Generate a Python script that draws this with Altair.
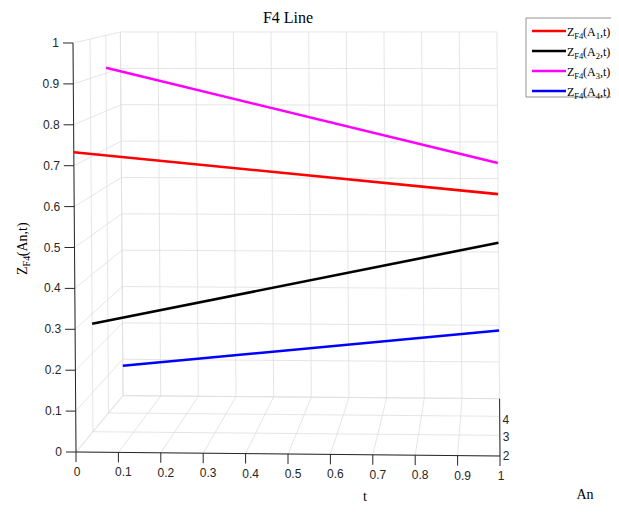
import altair as alt
import pandas as pd

# ---------------- data ----------------
TITLE = "F4 Line"
t_ticks = [0, 0.1, 0.2, 0.3, 0.4, 0.5, 0.6, 0.7, 0.8, 0.9, 1]
t_labels = ["0", "0.1", "0.2", "0.3", "0.4", "0.5", "0.6", "0.7", "0.8", "0.9", "1"]
z_ticks = [0, 0.1, 0.2, 0.3, 0.4, 0.5, 0.6, 0.7, 0.8, 0.9, 1]
z_labels = ["0", "0.1", "0.2", "0.3", "0.4", "0.5", "0.6", "0.7", "0.8", "0.9", "1"]
an_grid = [1, 2, 3, 4]
an_ticks = [2, 3, 4]
an_labels = ["2", "3", "4"]

series_names = ["A1", "A2", "A3", "A4"]
series_sub = ["1", "2", "3", "4"]
series_an = [1, 2, 3, 4]
series_colors = ["#ff0000", "#000000", "#ff00ff", "#0000ff"]
t_points = [0, 1]
z_A1 = [0.733, 0.634]
z_A2 = [0.275, 0.486]
z_A3 = [0.914, 0.665]
z_A4 = [0.082, 0.186]
z_series = [z_A1, z_A2, z_A3, z_A4]

# ---------------- perspective view settings ----------------
W, H = 424, 409          # front plane size in px
K, VY = 0.042, 1.24      # depth shrink per An unit, vanishing height
SKX, SKY = 3, 4          # slight camera skew (px)
AN0, ANMAX = 1, 4


def proj(t, an, z, ox, oy):
    s = f"(1/(1+{K}*(({an})-{AN0})))"
    X = f"(1+{s}*(({t})-1))"
    Y = f"({VY}+{s}*(({z})-{VY}))"
    return {ox: f"{X}-{SKX}*{Y}/{W}", oy: f"{Y}-{SKY}*{X}*(1-{Y})/{H}"}


xs = alt.Scale(domain=[0, 1], nice=False, zero=False)
ys = alt.Scale(domain=[0, 1], nice=False, zero=False)

# series table
rows = []
for name, an, zs in zip(series_names, series_an, z_series):
    for t, z in zip(t_points, zs):
        rows.append({"name": name, "t": t, "an": an, "z": z})
series_df = pd.DataFrame(rows)

# grid segments
seg = []
for t in t_ticks:
    seg.append((t, ANMAX, 0, t, ANMAX, 1))
    seg.append((t, AN0, 0, t, ANMAX, 0))
for z in z_ticks:
    seg.append((0, ANMAX, z, 1, ANMAX, z))
    seg.append((0, AN0, z, 0, ANMAX, z))
for an in an_grid:
    seg.append((0, an, 0, 0, an, 1))
    seg.append((0, an, 0, 1, an, 0))
grid_df = pd.DataFrame(seg, columns=["t1", "a1", "z1", "t2", "a2", "z2"])

axes_df = pd.DataFrame(
    [(0, AN0, 0, 0, AN0, 1), (0, AN0, 0, 1, AN0, 0), (1, AN0, 0, 1, ANMAX, 0)],
    columns=["t1", "a1", "z1", "t2", "a2", "z2"],
)


def seg_layer(df, color, width):
    calc = {}
    calc.update(proj("datum.t1", "datum.a1", "datum.z1", "px1", "py1"))
    calc.update(proj("datum.t2", "datum.a2", "datum.z2", "px2", "py2"))
    return alt.Chart(df).transform_calculate(**calc).mark_rule(
        color=color, strokeWidth=width
    ).encode(
        x=alt.X("px1:Q", scale=xs, axis=None),
        y=alt.Y("py1:Q", scale=ys, axis=None),
        x2="px2:Q",
        y2="py2:Q",
    )


grid = seg_layer(grid_df, "#dedede", 0.8)
axes = seg_layer(axes_df, "#262626", 1)

zdf = pd.DataFrame({"z": z_ticks, "lab": z_labels})
tdf = pd.DataFrame({"t": t_ticks, "lab": t_labels})
adf = pd.DataFrame({"an": an_ticks, "lab": an_labels})

z_tick = alt.Chart(zdf).transform_calculate(
    **proj("0", f"{AN0}", "datum.z", "px", "py")
).transform_calculate(px2=f"datum.px-10/{W}").mark_rule(
    color="#262626", strokeWidth=1
).encode(
    x=alt.X("px:Q", scale=xs, axis=None), x2="px2:Q",
    y=alt.Y("py:Q", scale=ys, axis=None),
)
z_lab = alt.Chart(zdf).transform_calculate(
    **proj("0", f"{AN0}", "datum.z", "px", "py")
).mark_text(
    align="right", baseline="middle", dx=-14, font="Liberation Sans",
    fontSize=12, color="#262626"
).encode(
    x=alt.X("px:Q", scale=xs, axis=None),
    y=alt.Y("py:Q", scale=ys, axis=None), text="lab:N",
)

t_tick = alt.Chart(tdf).transform_calculate(
    **proj("datum.t", f"{AN0}", "0", "px", "py")
).transform_calculate(py2=f"datum.py-10/{H}").mark_rule(
    color="#262626", strokeWidth=1
).encode(
    x=alt.X("px:Q", scale=xs, axis=None),
    y=alt.Y("py:Q", scale=ys, axis=None), y2="py2:Q",
)
t_lab = alt.Chart(tdf).transform_calculate(
    **proj("datum.t", f"{AN0}", "0", "px", "py")
).transform_calculate(
    px=f"datum.px+(datum.t>0&&datum.t<1?5:1)/{W}"
).mark_text(
    align="center", baseline="middle", dy=20, font="Liberation Sans",
    fontSize=12, color="#262626"
).encode(
    x=alt.X("px:Q", scale=xs, axis=None),
    y=alt.Y("py:Q", scale=ys, axis=None), text="lab:N",
)

a_lab = alt.Chart(adf).transform_calculate(
    **proj("1", "datum.an", "0", "px", "py")
).mark_text(
    align="left", baseline="middle", dx=3, dy=21, font="Liberation Sans",
    fontSize=12, color="#262626"
).encode(
    x=alt.X("px:Q", scale=xs, axis=None),
    y=alt.Y("py:Q", scale=ys, axis=None), text="lab:N",
)

lines = alt.Chart(series_df).transform_calculate(
    **proj("datum.t", "datum.an", "datum.z", "px", "py")
).mark_line(strokeWidth=2.6).encode(
    x=alt.X("px:Q", scale=xs, axis=None),
    y=alt.Y("py:Q", scale=ys, axis=None),
    color=alt.Color("name:N", scale=alt.Scale(domain=series_names, range=series_colors), legend=None),
    order="t:Q",
)

# ---------------- texts ----------------
one = pd.DataFrame({"a": [0]})
SERIF = "Liberation Serif"

title = alt.Chart(one).mark_text(
    text=TITLE, font=SERIF, fontSize=16, align="center", baseline="middle", color="#000"
).encode(x=alt.value(212), y=alt.value(-25))

t_title = alt.Chart(one).mark_text(
    text="t", font=SERIF, fontSize=14, align="center", baseline="middle", color="#000"
).encode(x=alt.value(289), y=alt.value(454))

an_title = alt.Chart(one).mark_text(
    text="An", font=SERIF, fontSize=14, align="center", baseline="middle", color="#000"
).encode(x=alt.value(509), y=alt.value(452))

# y title: Z_F4(An,t) rotated
YT_X, YT_Y = -49, 232
ytitle = []
for txt, dx, dy, fs in [("Z", 0, 0, 14), ("F4", 8.6, 3, 10), ("(An", 18.8, 0, 14), (",t)", 40.6, 0, 14)]:
    ytitle.append(alt.Chart(one).mark_text(
        text=txt, font=SERIF, fontSize=fs, angle=270, align="left",
        baseline="alphabetic", dx=dx, dy=dy, color="#000"
    ).encode(x=alt.value(YT_X), y=alt.value(YT_Y)))

# ---------------- legend ----------------
leg_df = pd.DataFrame({"name": series_names, "sub": series_sub, "i": [0, 1, 2, 3]})
LEG_Y0, LEG_DY = -12, 20

leg_box = alt.Chart(one).mark_rect(
    fill="white", stroke="#777777", strokeWidth=0.8
).encode(x=alt.value(450), x2=alt.value(560), y=alt.value(-25), y2=alt.value(54))

leg_base = alt.Chart(leg_df).transform_calculate(
    ly=f"{LEG_Y0}+{LEG_DY}*datum.i", lt=f"{LEG_Y0}+{LEG_DY}*datum.i+4.5"
)
leg_lines = leg_base.mark_rule(strokeWidth=2.6).encode(
    x=alt.value(456), x2=alt.value(490),
    y=alt.Y("ly:Q", scale=None),
    color=alt.Color("name:N", scale=alt.Scale(domain=series_names, range=series_colors), legend=None),
)
leg_text = []
for txt, xv, dy, fs in [("Z", 491, 0, 12), ("F4", 498.3, 3, 8.5), ("(A", 507, 0, 12), (None, 519.7, 3, 8.5), (",t)", 524, 0, 12)]:
    mk = dict(font=SERIF, fontSize=fs, align="left", baseline="alphabetic", dy=dy, color="#000")
    if txt is not None:
        mk["text"] = txt
        ch = leg_base.mark_text(**mk).encode(x=alt.value(xv), y=alt.Y("lt:Q", scale=None))
    else:
        ch = leg_base.mark_text(**mk).encode(x=alt.value(xv), y=alt.Y("lt:Q", scale=None), text="sub:N")
    leg_text.append(ch)

chart = alt.layer(
    grid, axes, z_tick, z_lab, t_tick, t_lab, a_lab, lines,
    title, t_title, an_title, *ytitle, leg_box, leg_lines, *leg_text
).properties(
    width=W, height=H,
    autosize=alt.AutoSizeParams(type="none"),
    padding={"left": 68, "top": 35, "right": 111, "bottom": 55},
).configure_view(strokeWidth=0)

chart.save("out.html", embed_options={"renderer": "svg", "actions": False})
